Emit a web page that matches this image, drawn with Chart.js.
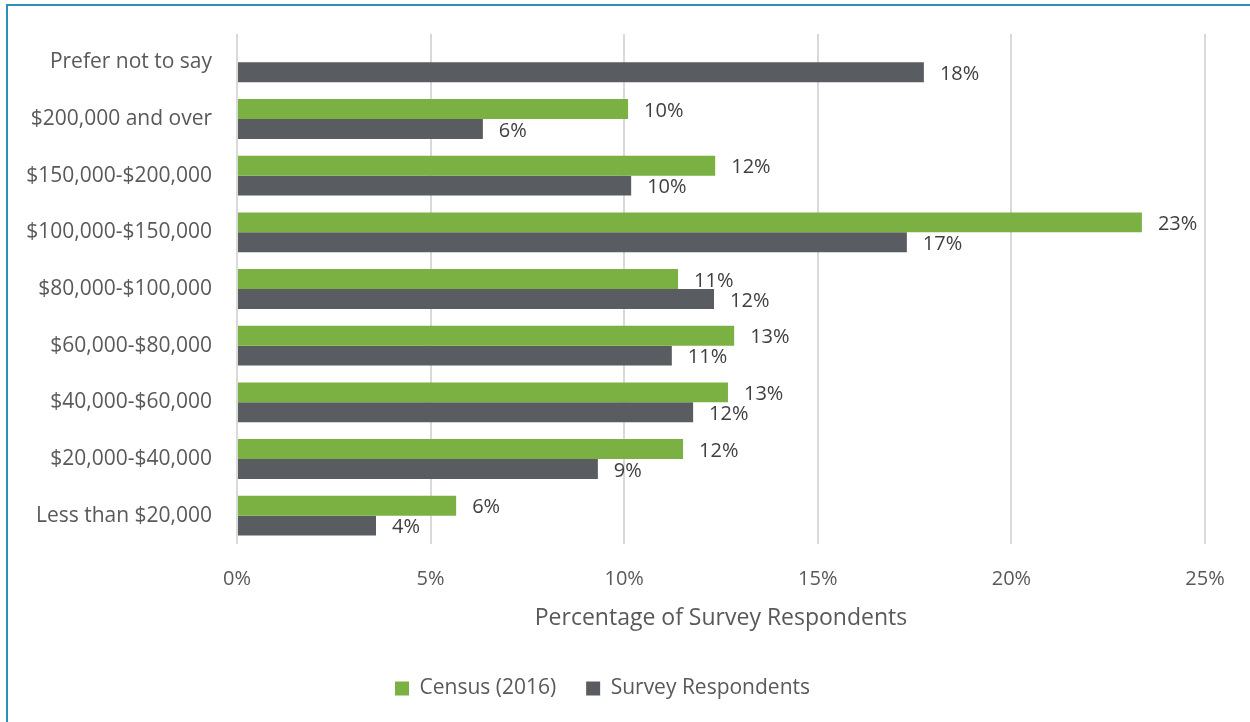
<!DOCTYPE html>
<html>
<head>
<meta charset="utf-8">
<script src="https://cdn.jsdelivr.net/npm/chart.js@4.4.1/dist/chart.umd.min.js"></script>
<style>
  html, body { margin: 0; padding: 0; background: #fff; }
  #wrap { position: relative; width: 1250px; height: 722px; }
  #frame {
    position: absolute; left: 6px; top: 4px; right: 0; bottom: 0;
    border-top: 2px solid #2b8fb8; border-left: 2px solid #2b8fb8;
    pointer-events: none;
  }
</style>
</head>
<body>
<div id="wrap">
  <canvas id="income_chart" width="1250" height="722"></canvas>
  <div id="frame"></div>
</div>
<script>
// household income brackets, top row first
const categories = [
    'Prefer not to say',
    '$200,000 and over',
    '$150,000-$200,000',
    '$100,000-$150,000',
    '$80,000-$100,000',
    '$60,000-$80,000',
    '$40,000-$60,000',
    '$20,000-$40,000',
    'Less than $20,000'
];

// percent of households
const census_2016 = [null, 10.1, 12.35, 23.37, 11.39, 12.84, 12.68, 11.52, 5.66];
const survey_respondents = [17.74, 6.35, 10.18, 17.3, 12.32, 11.23, 11.78, 9.32, 3.59];

const x_ticks = [0, 5, 10, 15, 20, 25];

const font_family = '"Open Sans", "Noto Sans", sans-serif';

// writes the rounded value just past the end of each bar
const bar_values = {
    id: 'bar_values',
    afterDatasetsDraw(chart) {
        const ctx = chart.ctx;
        ctx.save();
        ctx.font = '20px ' + font_family;
        ctx.fillStyle = '#404040';
        ctx.textAlign = 'left';
        ctx.textBaseline = 'middle';
        chart.data.datasets.forEach((ds, i) => {
            const meta = chart.getDatasetMeta(i);
            meta.data.forEach((bar, j) => {
                const v = ds.data[j];
                if (v == null) return;
                ctx.fillText(Math.round(v) + '%', bar.x + 16, bar.y + 2);
            });
        });
        ctx.restore();
    }
};

const data = {
    labels: categories,
    datasets: [{
        label: 'Census (2016)',
        data: census_2016,
        backgroundColor: '#7ab142',
        categoryPercentage: 0.704,
        barPercentage: 1.0
    }, {
        label: 'Survey Respondents',
        data: survey_respondents,
        backgroundColor: '#595c61',
        categoryPercentage: 0.704,
        barPercentage: 1.0
    }]
};

const config = {
    type: 'bar',
    data: data,
    options: {
        indexAxis: 'y',
        responsive: false,
        animation: false,
        layout: {
            padding: { top: 34, right: 45, bottom: 13, left: 0 }
        },
        plugins: {
            tooltip: { enabled: false },
            legend: {
                position: 'bottom',
                labels: {
                    color: '#595959',
                    font: { family: font_family, size: 21 },
                    boxWidth: 14,
                    boxHeight: 14,
                    padding: 30
                }
            }
        },
        scales: {
            x: {
                min: 0,
                max: 25,
                afterBuildTicks: (scale) => {
                    scale.ticks = x_ticks.map((v) => ({ value: v }));
                },
                afterFit: (scale) => { scale.height = 104; },
                grid: { color: '#d9d9d9', lineWidth: 2, drawTicks: false },
                border: { display: false },
                ticks: {
                    color: '#595959',
                    font: { family: font_family, size: 20 },
                    padding: 23,
                    callback: (v) => v + '%'
                },
                title: {
                    display: true,
                    text: 'Percentage of Survey Respondents',
                    color: '#595959',
                    font: { family: font_family, size: 23 },
                    padding: { top: 0, bottom: 16 }
                }
            },
            y: {
                afterFit: (scale) => {
                    scale.width = 237;
                    scale.paddingTop = 0;
                    scale.paddingBottom = 0;
                },
                grid: { display: false, drawTicks: false },
                border: { display: false },
                ticks: {
                    color: '#595959',
                    font: { family: font_family, size: 21 },
                    padding: 25
                }
            }
        }
    },
    plugins: [bar_values]
};

const income_chart = new Chart(
    document.getElementById('income_chart'),
    config
);
</script>
</body>
</html>
